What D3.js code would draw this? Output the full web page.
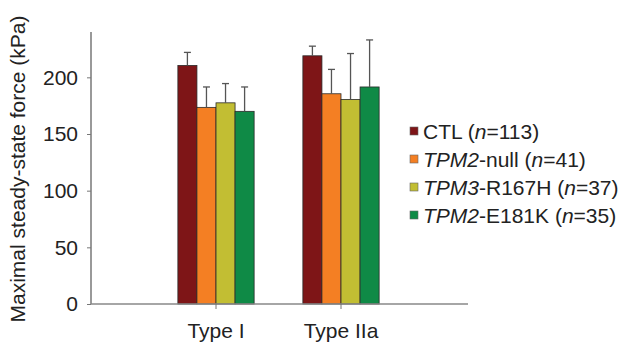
<!DOCTYPE html>
<html>
<head>
<meta charset="utf-8">
<script src="https://cdn.jsdelivr.net/npm/d3@7"></script>
<style>
  body { margin: 0; background: #fff; }
  text { font-family: "Liberation Sans", Arial, sans-serif; fill: #222; }
</style>
</head>
<body>
<div id="chart"></div>
<script>
var WIDTH = 619
var HEIGHT = 345

// data
var fibreTypes = ["Type I", "Type IIa"]
var groups = ["CTL", "TPM2-null", "TPM3-R167H", "TPM2-E181K"]
var groupItalic = ["", "TPM2", "TPM3", "TPM2"]
var groupRest = ["CTL", "-null", "-R167H", "-E181K"]
var groupN = [113, 41, 37, 35]
var colors = ["#7e1517", "#f47f23", "#c2be33", "#0f8a46"]
var meanTypeI = [210.5, 173.5, 177.5, 170]
var meanTypeIIa = [219, 185.5, 180.5, 191.5]
var errTypeI = [11.5, 18, 17, 21.5]
var errTypeIIa = [8.5, 21.5, 40.5, 41.5]
var yTicks = [0, 50, 100, 150, 200]

var svg = d3.select("#chart").append("svg")
  .attr("width", WIDTH)
  .attr("height", HEIGHT)

var y = d3.scaleLinear().domain([0, 240]).range([304, 32])
var x0 = d3.scaleBand().domain(fibreTypes).range([91, 466]).paddingInner(0.39).paddingOuter(0.695)
var x1 = d3.scaleBand().domain(groups).range([0, x0.bandwidth()])

var rows = []
fibreTypes.forEach(function(t, i) {
  var means = i == 0 ? meanTypeI : meanTypeIIa
  var errs = i == 0 ? errTypeI : errTypeIIa
  groups.forEach(function(g, j) {
    rows.push({type: t, group: g, mean: means[j], err: errs[j], color: colors[j]})
  })
})

// bars
svg.selectAll(".bar")
  .data(rows)
  .enter()
  .append("rect")
  .attr("class", "bar")
  .attr("x", function(d) { return x0(d.type) + x1(d.group) })
  .attr("y", function(d) { return y(d.mean) })
  .attr("width", x1.bandwidth())
  .attr("height", function(d) { return y(0) - y(d.mean) })
  .attr("fill", function(d) { return d.color })
  .attr("stroke", "#2a2a2a")
  .attr("stroke-width", 0.8)

// upper error bars only
var eb = svg.selectAll(".err")
  .data(rows)
  .enter()
  .append("g")
  .attr("class", "err")
  .attr("stroke", "#555")
  .attr("stroke-width", 1.3)
eb.append("line")
  .attr("x1", function(d) { return x0(d.type) + x1(d.group) + x1.bandwidth() / 2 })
  .attr("x2", function(d) { return x0(d.type) + x1(d.group) + x1.bandwidth() / 2 })
  .attr("y1", function(d) { return y(d.mean) })
  .attr("y2", function(d) { return y(d.mean + d.err) })
eb.append("line")
  .attr("x1", function(d) { return x0(d.type) + x1(d.group) + x1.bandwidth() / 2 - 3.5 })
  .attr("x2", function(d) { return x0(d.type) + x1(d.group) + x1.bandwidth() / 2 + 3.5 })
  .attr("y1", function(d) { return y(d.mean + d.err) })
  .attr("y2", function(d) { return y(d.mean + d.err) })

// y axis
var yAxis = svg.append("g")
  .attr("transform", "translate(91,0)")
  .call(d3.axisLeft(y).tickValues(yTicks).tickSize(4).tickPadding(9))
yAxis.select(".domain").attr("stroke", "#777").attr("stroke-width", 1.5)
  .attr("d", "M0," + y(240) + "V" + y(0))
yAxis.selectAll(".tick line").attr("stroke", "#777")
yAxis.selectAll(".tick text").style("font-size", "21px").attr("fill", "#222")
  .style("font-family", "Liberation Sans, Arial, sans-serif")

// x axis
var xAxis = svg.append("g")
  .attr("transform", "translate(0," + y(0) + ")")
  .call(d3.axisBottom(x0).tickSize(5).tickPadding(14))
xAxis.select(".domain").attr("stroke", "#888").attr("stroke-width", 1.5)
  .attr("d", "M91,0H468")
xAxis.selectAll(".tick line").attr("stroke", "#777")
xAxis.selectAll(".tick text").style("font-size", "21px").attr("fill", "#222")
  .style("font-family", "Liberation Sans, Arial, sans-serif")

svg.append("text")
  .attr("transform", "translate(25,169) rotate(-90)")
  .attr("text-anchor", "middle")
  .style("font-size", "21px")
  .text("Maximal steady-state force (kPa)")

// legend
var legend = svg.selectAll(".legend")
  .data(groups)
  .enter()
  .append("g")
  .attr("class", "legend")
  .attr("transform", function(d, i) { return "translate(410," + (139 + i * 28) + ")" })
legend.append("rect")
  .attr("x", 0)
  .attr("y", -12)
  .attr("width", 8)
  .attr("height", 8)
  .attr("fill", function(d, i) { return colors[i] })
  .attr("stroke", "#666")
  .attr("stroke-width", 0.6)
var lt = legend.append("text")
  .attr("x", 13)
  .style("font-size", "21px")
lt.append("tspan").style("font-style", "italic").text(function(d, i) { return groupItalic[i] })
lt.append("tspan").text(function(d, i) { return groupRest[i] + " (" })
lt.append("tspan").style("font-style", "italic").text("n")
lt.append("tspan").text(function(d, i) { return "=" + groupN[i] + ")" })
</script>
</body>
</html>
